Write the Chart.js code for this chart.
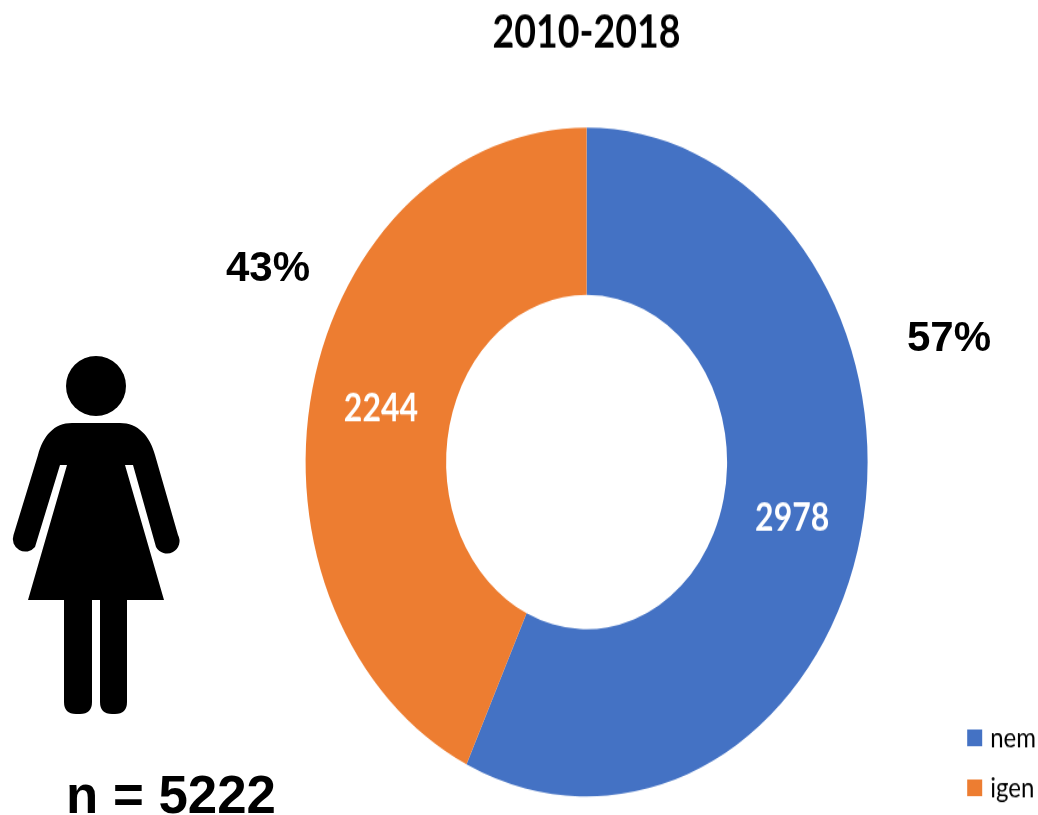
<!DOCTYPE html>
<html>
<head>
<meta charset="utf-8">
<title>2010-2018</title>
<script src="https://cdn.jsdelivr.net/npm/chart.js@4/dist/chart.umd.min.js"></script>
<style>
  html, body { margin: 0; padding: 0; background: #fff; }
  #page { position: relative; width: 1038px; height: 815px; overflow: hidden; }
  /* the whole chart is stretched vertically, like the source picture */
  #donut { position: absolute; left: 0; top: 0; transform-origin: 0 0; transform: scaleY(1.19); }
  .note { position: absolute; font-family: "Liberation Sans", Arial, sans-serif; font-weight: bold; color: #000; line-height: 1; white-space: nowrap; }
  #pctIgen { left: 226px; top: 246px; font-size: 42px; }
  #pctNem { left: 907px; top: 316px; font-size: 42px; }
  #sample { left: 66px; top: 769px; font-size: 52.8px; }
  #woman { position: absolute; left: 0; top: 340px; }
</style>
</head>
<body>
<div id="page">
  <canvas id="donut" width="1038" height="685"></canvas>
  <div class="note" id="pctIgen"></div>
  <div class="note" id="pctNem"></div>
  <div class="note" id="sample"></div>
  <svg id="woman" width="200" height="390" viewBox="0 340 200 390">
    <circle cx="96" cy="386" r="30"/>
    <path d="M72 423 H120 C138 423 150 436 155 455 L178 535 A12.5 12.5 0 0 1 156 547 L133 465 H125 L164 600 H127 V702 Q127 714 115 714 H112 Q100 714 100 702 V600 H92 V702 Q92 714 80 714 H76 Q64 714 64 702 V600 H28 L67 465 H60 L35 547 A12.5 12.5 0 0 1 13.5 535 L38 455 C43 436 54 423 72 423 Z"/>
  </svg>
</div>

<script>
// Values
const categories = ['nem', 'igen'];
const counts = [2978, 2244];
const percentLabels = ['57%', '43%'];
const colors = ['#4472C4', '#ED7D31'];
const chartTitle = '2010-2018';
const sampleLabel = 'n = 5222';

document.getElementById('pctNem').textContent = percentLabels[0];
document.getElementById('pctIgen').textContent = percentLabels[1];
document.getElementById('sample').textContent = sampleLabel;

// Chart.js has no data labels of its own, so write the counts on the arcs
const countLabels = {
  id: 'countLabels',
  afterDatasetsDraw(chart) {
    const ctx = chart.ctx;
    ctx.save();
    ctx.fillStyle = '#fff';
    ctx.font = 'bold 32px Lato';
    ctx.textAlign = 'center';
    ctx.textBaseline = 'middle';
    chart.getDatasetMeta(0).data.forEach((arc, i) => {
      const pos = arc.tooltipPosition();
      ctx.fillText(String(counts[i]), pos.x, pos.y + 1.5);
    });
    ctx.restore();
  }
};

new Chart(document.getElementById('donut'), {
  type: 'doughnut',
  data: {
    labels: categories,
    datasets: [{
      data: counts,
      backgroundColor: colors,
      borderWidth: 0
    }]
  },
  options: {
    responsive: false,
    devicePixelRatio: 1,
    animation: false,
    radius: 281,
    cutout: '50%',
    layout: { padding: { left: 220, right: -8, top: 0, bottom: -7 } },
    plugins: {
      tooltip: { enabled: false },
      title: {
        display: true,
        text: chartTitle,
        fullSize: false,
        color: '#000',
        font: { family: 'Lato', size: 37.5, weight: 'bold', lineHeight: 1.2 },
        padding: { top: 5, bottom: 41.5 }
      },
      legend: {
        position: 'right',
        align: 'end',
        labels: {
          color: '#222',
          boxWidth: 7,
          boxHeight: 6,
          padding: 18,
          font: { family: 'Lato', size: 24 },
          generateLabels(chart) {
            return categories.map((name, i) => ({
              text: name,
              fillStyle: colors[i],
              strokeStyle: colors[i],
              lineWidth: 8,
              index: i
            }));
          }
        }
      }
    }
  },
  plugins: [countLabels]
});
</script>
</body>
</html>
